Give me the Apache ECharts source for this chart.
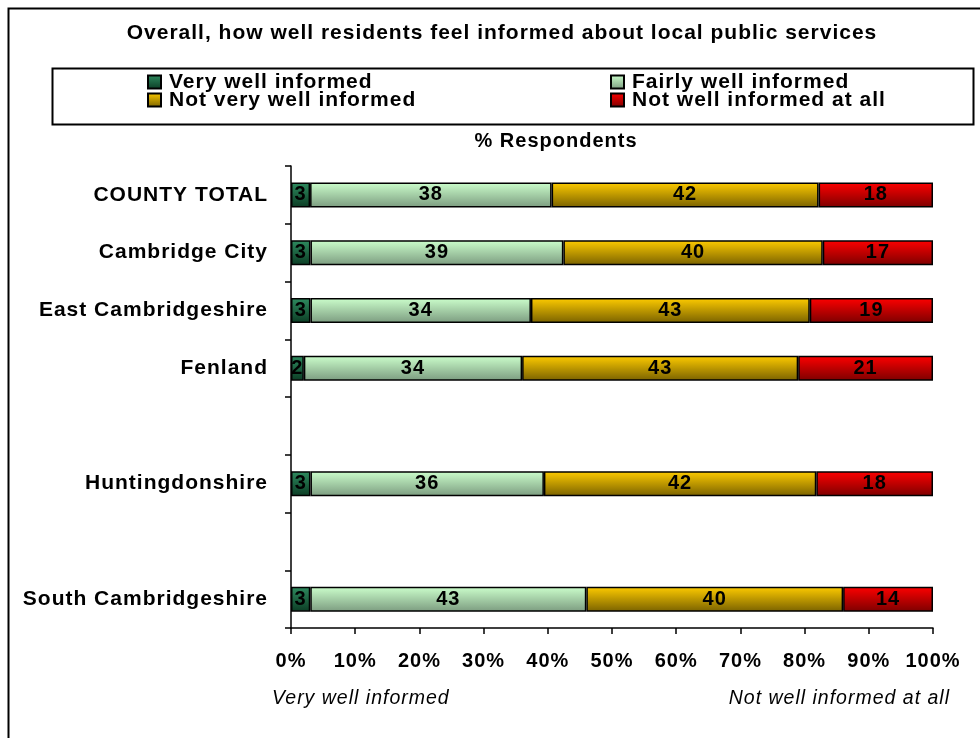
<!DOCTYPE html>
<html>
<head>
<meta charset="utf-8">
<title>Informed about local public services</title>
<script src="https://cdn.jsdelivr.net/npm/echarts@6/dist/echarts.min.js"></script>
<style>
  html, body { margin: 0; padding: 0; background: #fff; }
  #chart { width: 980px; height: 738px; }
</style>
</head>
<body>
<div id="chart"></div>
<script>
// Areas, top to bottom; blank entries leave a spacer row between groups
const categories = ['COUNTY TOTAL', 'Cambridge City', 'East Cambridgeshire', 'Fenland', '', 'Huntingdonshire', '', 'South Cambridgeshire'];

// Survey answers, % of respondents per area
const veryWell      = [3, 3, 3, 2, null, 3, null, 3];
const fairlyWell    = [38, 39, 34, 34, null, 36, null, 43];
const notVeryWell   = [42, 40, 43, 43, null, 42, null, 40];
const notWellAtAll  = [18, 17, 19, 21, null, 18, null, 14];

const seriesNames = ['Very well informed', 'Fairly well informed', 'Not very well informed', 'Not well informed at all'];
const xTickLabels = ['0%', '10%', '20%', '30%', '40%', '50%', '60%', '70%', '80%', '90%', '100%'];

const FONT = '"Liberation Sans", Arial, sans-serif';
const LETTER_SPACING = '1px';

// Slightly tracked-out lettering: text is measured and drawn with the same spacing
const measureCtx = document.createElement('canvas').getContext('2d');
echarts.setPlatformAPI({
  measureText: function (text, font) {
    measureCtx.font = font || '12px sans-serif';
    measureCtx.letterSpacing = LETTER_SPACING;
    return measureCtx.measureText(text);
  }
});
const nativeFillText = CanvasRenderingContext2D.prototype.fillText;
CanvasRenderingContext2D.prototype.fillText = function () {
  this.letterSpacing = LETTER_SPACING;
  return nativeFillText.apply(this, arguments);
};

// Each row is drawn as a 100% stack: every answer's share of the row total
const rows = [veryWell, fairlyWell, notVeryWell, notWellAtAll];
const rowTotals = categories.map((_, i) =>
  rows.reduce((s, arr) => s + (arr[i] == null ? 0 : arr[i]), 0));

function toShares(arr) {
  return arr.map((v, i) => v == null ? '-' : { value: v / rowTotals[i] * 100, raw: v });
}

function grad(top, bottom) {
  return new echarts.graphic.LinearGradient(0, 0, 0, 1, [
    { offset: 0, color: top },
    { offset: 1, color: bottom }
  ]);
}

const fills = [
  grad('#2f8c60', '#0b3c24'),
  grad('#ccffcc', '#7c9c80'),
  grad('#ffcc00', '#7a6200'),
  grad('#ff0000', '#7d0000')
];

const series = rows.map((arr, k) => ({
  name: seriesNames[k],
  type: 'bar',
  stack: 'total',
  barWidth: 25,
  data: toShares(arr),
  itemStyle: { color: fills[k], borderColor: '#000', borderWidth: 1.5 },
  label: {
    show: true,
    position: 'inside',
    color: '#000',
    fontFamily: FONT,
    fontWeight: 'bold',
    fontSize: 20,
    formatter: p => p.data && p.data.raw != null ? String(p.data.raw) : ''
  },
  emphasis: { disabled: true }
}));

const legendText = { fontFamily: FONT, fontWeight: 'bold', fontSize: 21, color: '#000', padding: [0, 0, 0, 3] };

const chart = echarts.init(document.getElementById('chart'), null, { renderer: 'canvas' });
chart.setOption({
  animation: false,
  backgroundColor: '#fff',
  title: [{
    text: 'Overall, how well residents feel informed about local public services',
    left: 497, top: 17, textAlign: 'center',
    textStyle: { fontFamily: FONT, fontWeight: 'bold', fontSize: 21, color: '#000' }
  }, {
    text: '% Respondents',
    left: 551, top: 126, textAlign: 'center',
    textStyle: { fontFamily: FONT, fontWeight: 'bold', fontSize: 20, color: '#000' }
  }],
  legend: [{
    orient: 'vertical', left: 142, top: 66, itemGap: -4,
    itemWidth: 13, itemHeight: 13, icon: 'rect',
    selectedMode: false,
    data: [seriesNames[0], seriesNames[2]],
    textStyle: legendText
  }, {
    orient: 'vertical', left: 605, top: 66, itemGap: -4,
    itemWidth: 13, itemHeight: 13, icon: 'rect',
    selectedMode: false,
    data: [seriesNames[1], seriesNames[3]],
    textStyle: legendText
  }],
  grid: { left: 291, right: 47, top: 166, bottom: 110, containLabel: false },
  xAxis: {
    type: 'value', min: 0, max: 100, interval: 10,
    axisLine: { show: true, lineStyle: { color: '#000', width: 1.5 } },
    axisTick: { show: true, length: 6, lineStyle: { color: '#000', width: 1.5 } },
    splitLine: { show: false },
    axisLabel: {
      margin: 23, color: '#000', fontFamily: FONT, fontWeight: 'bold', fontSize: 20,
      formatter: v => xTickLabels[Math.round(v / 10)]
    }
  },
  yAxis: {
    type: 'category', inverse: true, data: categories,
    axisLine: { show: true, lineStyle: { color: '#000', width: 1.5 } },
    axisTick: { show: true, length: 6, interval: 0, lineStyle: { color: '#000', width: 1.5 } },
    axisLabel: {
      margin: 23, interval: 0, color: '#000', fontFamily: FONT, fontWeight: 'bold', fontSize: 21
    }
  },
  graphic: [
    { type: 'rect', left: 6, top: 6, shape: { width: 1000, height: 800 },
      style: { fill: 'none', stroke: '#000', lineWidth: 2 }, z: -1 },
    { type: 'rect', left: 50, top: 66, shape: { width: 921, height: 56 },
      style: { fill: 'none', stroke: '#000', lineWidth: 2 }, z: -1 },
    { type: 'text', left: 272, top: 688,
      style: { text: 'Very well informed', font: 'italic 19.5px ' + FONT, fill: '#000' } },
    { type: 'text', right: 30, top: 688,
      style: { text: 'Not well informed at all', font: 'italic 19.5px ' + FONT, fill: '#000' } }
  ],
  series: series
});
</script>
</body>
</html>
